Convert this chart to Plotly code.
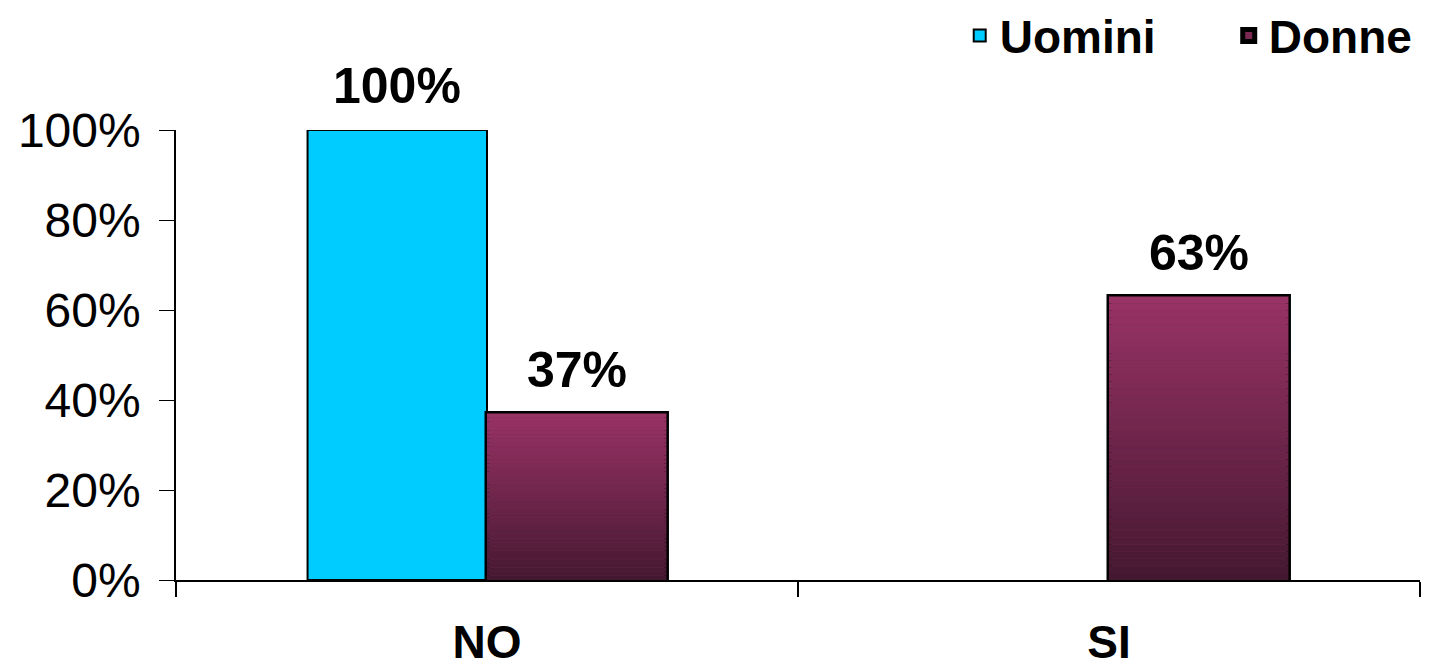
import plotly.graph_objects as go

categories = ["NO", "SI"]
uomini = [100, None]
donne = [37, 63]

series_names = ["Uomini", "Donne"]
y_ticks = [0, 20, 40, 60, 80, 100]
y_tick_labels = [f"{v}%" for v in y_ticks]

uomini_color = "#00CCFF"
donne_top = (153, 51, 102)
donne_bottom = (68, 24, 48)

FONT = "Liberation Sans, Arial, sans-serif"
N_SEG = 40
BARGAP = 0.423

fig = go.Figure()

fig.add_bar(
    name=series_names[0], x=categories, y=uomini, offsetgroup="u",
    marker=dict(color=uomini_color, line=dict(color="black", width=2)),
    hoverinfo="skip",
)

# Base Donne bar: outline + legend entry
fig.add_bar(
    name=series_names[1], x=categories, y=donne, offsetgroup="d",
    marker=dict(color="#7a2a52", line=dict(color="black", width=5)),
    hoverinfo="skip",
)

# Vertical gradient fill over each Donne bar (style only)
for i in range(N_SEG):
    t = (i + 0.5) / N_SEG
    c = tuple(round(b + (a - b) * t) for a, b in zip(donne_top, donne_bottom))
    fig.add_bar(
        x=categories, y=[v / N_SEG for v in donne], base=[v * i / N_SEG for v in donne],
        offsetgroup="d", showlegend=False, hoverinfo="skip",
        marker=dict(color=f"rgb{c}", line=dict(width=0)),
    )

# Value labels above bars (group slot offsets derived from bargap)
slot = (1 - BARGAP) / 2
annotations = []
for series_idx, values in enumerate([uomini, donne]):
    offset = (series_idx - 0.5) * slot
    for ci, v in enumerate(values):
        if v is None:
            continue
        annotations.append(dict(
            x=ci + offset, y=v, xref="x", yref="y", text=f"<b>{v}%</b>",
            showarrow=False, yanchor="bottom", xanchor="center", yshift=14,
            font=dict(family=FONT, size=50, color="black"),
        ))

fig.update_layout(
    width=1432, height=667,
    margin=dict(l=176, r=12, t=130, b=87, autoexpand=False),
    paper_bgcolor="white", plot_bgcolor="white",
    barmode="group", bargap=BARGAP, bargroupgap=0,
    showlegend=True,
    legend=dict(
        orientation="h", x=0.63, xanchor="left", y=1.21, yanchor="middle",
        font=dict(family=FONT, size=46, color="black", weight="bold"),
        entrywidth=224, entrywidthmode="pixels", traceorder="normal",
        bgcolor="rgba(0,0,0,0)",
    ),
    font=dict(family=FONT, color="black"),
    annotations=annotations,
)

fig.update_xaxes(
    type="category", showline=True, linecolor="black", linewidth=1.5,
    ticks="outside", ticklen=15, tickcolor="black", tickwidth=1.5,
    tickson="boundaries", showgrid=False,
    tickfont=dict(family=FONT, size=46, color="black", weight="bold"),
    ticklabelstandoff=21,
)
fig.update_yaxes(
    range=[0, 100], tickvals=y_ticks, ticktext=y_tick_labels,
    showline=True, linecolor="black", linewidth=1.5,
    ticks="outside", ticklen=15, tickcolor="black", tickwidth=1,
    showgrid=False, zeroline=False,
    tickfont=dict(family=FONT, size=48, color="black"),
    ticklabelstandoff=9,
)

fig.write_html("out.html")
